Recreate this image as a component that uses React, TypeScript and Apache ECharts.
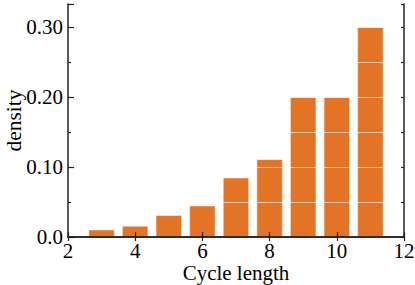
import React, { useEffect, useRef } from "react";
import * as echarts from "echarts";

const cycleLengths = [3, 4, 5, 6, 7, 8, 9, 10, 11];
const densities = [0.0104, 0.0157, 0.031, 0.0447, 0.0847, 0.111, 0.2, 0.2, 0.3];
const yTickLabels: Record<string, string> = { "0": "0.0", "0.1": "0.10", "0.2": "0.20", "0.3": "0.30" };

const FONT = "Liberation Serif";

export default function App() {
  const ref = useRef<HTMLDivElement>(null);
  useEffect(() => {
    if (!ref.current) return;
    const chart = echarts.init(ref.current, null, { renderer: "svg" });
    const axisLine = { show: true, lineStyle: { color: "#222", width: 1.5 } };
    chart.setOption({
      animation: false,
      backgroundColor: "#fff",
      grid: { left: 68, right: 11, top: 4, bottom: 48, outerBoundsMode: "none", containLabel: false },
      xAxis: [
        {
          type: "value",
          position: "bottom",
          min: 2,
          max: 12,
          interval: 2,
          z: 5,
          name: "Cycle length",
          nameLocation: "middle",
          nameGap: 25,
          nameMoveOverlap: false,
          nameTextStyle: { fontFamily: FONT, fontSize: 21, color: "#000", lineHeight: 21 },
          axisLine,
          axisTick: { show: true, inside: true, length: 5, lineStyle: { color: "#222", width: 1.2 } },
          axisLabel: { fontFamily: FONT, fontSize: 21, color: "#000", margin: 4, lineHeight: 19 },
          splitLine: { show: false },
        },
        {
          type: "value",
          position: "top",
          min: 2,
          max: 12,
          interval: 2,
          z: 5,
          axisLine,
          axisTick: { show: true, inside: true, length: 4, lineStyle: { color: "#222", width: 1.2 } },
          axisLabel: { show: false },
          splitLine: { show: false },
        },
      ],
      yAxis: [
        {
          type: "value",
          position: "left",
          min: 0,
          max: 0.333,
          interval: 0.1,
          z: 5,
          name: "density",
          nameLocation: "middle",
          nameGap: 43,
          nameMoveOverlap: false,
          nameTextStyle: { fontFamily: FONT, fontSize: 21.5, color: "#000" },
          axisLine,
          axisTick: { show: true, inside: true, length: 6, lineStyle: { color: "#222", width: 1.2 } },
          minorTick: { show: true, splitNumber: 2, length: 3, lineStyle: { color: "#222", width: 1.2 } },
          axisLabel: {
            fontFamily: FONT,
            fontSize: 21,
            color: "#000",
            margin: 5,
            showMaxLabel: false,
            formatter: (v: number) => {
              const k = String(Math.round(v * 10) / 10);
              return yTickLabels[k] ?? "";
            },
          },
          splitLine: { show: true, lineStyle: { color: "rgba(255,255,255,0.6)", width: 1 } },
          minorSplitLine: { show: true, lineStyle: { color: "rgba(255,255,255,0.6)", width: 1 } },
        },
        {
          type: "value",
          position: "right",
          min: 0,
          max: 0.333,
          interval: 0.05,
          z: 5,
          axisLine,
          axisTick: { show: true, inside: true, length: 3, lineStyle: { color: "#222", width: 1.2 } },
          axisLabel: { show: false },
          splitLine: { show: false },
        },
      ],
      series: [
        {
          type: "bar",
          xAxisIndex: 0,
          yAxisIndex: 0,
          z: 1,
          barWidth: 26,
          data: cycleLengths.map((c, i) => [c, densities[i]]),
          itemStyle: { color: "#e37426", borderColor: "rgba(255,235,220,0.8)", borderWidth: 0.6 },
        },
      ],
    });
    return () => chart.dispose();
  }, []);
  return (
    <div
      ref={ref}
      style={{ position: "fixed", left: 0, top: 0, width: 415, height: 285 }}
    />
  );
}
